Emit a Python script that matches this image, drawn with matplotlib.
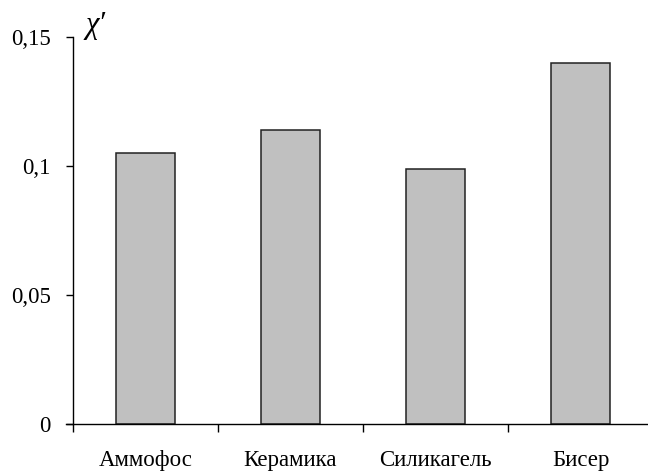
import matplotlib
matplotlib.use('Agg')
import matplotlib.pyplot as plt

materials = ['Аммофос', 'Керамика', 'Силикагель', 'Бисер']
chi = [0.105, 0.114, 0.099, 0.140]
y_ticks = [0, 0.05, 0.1, 0.15]
y_labels = ['0', '0,05', '0,1', '0,15']

plt.rcParams['font.family'] = ['Liberation Serif', 'DejaVu Serif']

fig = plt.figure(figsize=(6.48, 4.72), dpi=100)
# axes run a bit past the right edge, like in the original
ax = fig.add_axes([73 / 648, 48 / 472, 580 / 648, 387 / 472])

pos = range(len(materials))
ax.bar(pos, chi, width=0.405, color='#c0c0c0', edgecolor='#222222', linewidth=1.1)

ax.set_xlim(-0.5, len(materials) - 0.5)
ax.set_ylim(0, 0.15)

ax.spines['top'].set_visible(False)
ax.spines['right'].set_visible(False)
ax.spines['left'].set_linewidth(1.0)
ax.spines['bottom'].set_linewidth(1.0)
ax.spines['bottom'].set_bounds(-0.55, len(materials) - 0.5)

ax.set_yticks(y_ticks)
ax.set_yticklabels(y_labels, fontsize=16.5)
ax.tick_params(axis='y', direction='out', length=5, width=1.0, pad=11)

# labels at the centres, tick marks between the categories
ax.set_xticks(list(pos))
ax.set_xticklabels(materials, fontsize=16.5)
ax.tick_params(axis='x', which='major', length=0, pad=19)
ax.set_xticks([p - 0.5 for p in pos], minor=True)
ax.tick_params(axis='x', which='minor', direction='out', length=6, width=1.0)

fig.text(85 / 648, 1 - 25 / 472, 'χ′', fontsize=22, fontstyle='italic',
         ha='left', va='center')

plt.savefig('out.png', dpi=100)
